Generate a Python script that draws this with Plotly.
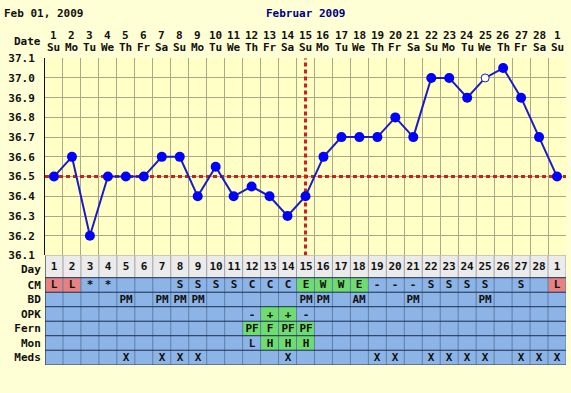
import plotly.graph_objects as go

# ---------------- data ----------------
days = list(range(1, 30))
day_labels = [str(d) for d in range(1, 29)] + ["1"]
weekdays = ["Su", "Mo", "Tu", "We", "Th", "Fr", "Sa"] * 4 + ["Su"]
temps = [36.5, 36.6, 36.2, 36.5, 36.5, 36.5, 36.6, 36.6, 36.4, 36.55,
         36.4, 36.45, 36.4, 36.3, 36.4, 36.6, 36.7, 36.7, 36.7, 36.8,
         36.7, 37.0, 37.0, 36.9, 37.0, 37.05, 36.9, 36.7, 36.5]
open_days = [25]          # discarded / open temperature point
coverline = 36.5
ovulation_day = 15

cm   = ["L", "L", "*", "*", "", "", "", "S", "S", "S", "S", "C", "C", "C", "E",
        "W", "W", "E", "-", "-", "-", "S", "S", "S", "S", "", "S", "", "L"]
bd   = ["", "", "", "", "PM", "", "PM", "PM", "PM", "", "", "", "", "", "PM",
        "PM", "", "AM", "", "", "PM", "", "", "", "PM", "", "", "", ""]
opk  = [""] * 11 + ["-", "+", "+", "-"] + [""] * 14
fern = [""] * 11 + ["PF", "F", "PF", "PF"] + [""] * 14
mon  = [""] * 11 + ["L", "H", "H", "H"] + [""] * 14
meds = ["", "", "", "", "X", "", "X", "X", "X", "", "", "", "", "X", "",
        "", "", "", "X", "X", "", "X", "X", "X", "X", "", "X", "X", "X"]

# highlight codes: 0 = gray (day row), 1 = blue, 2 = red (period), 3 = green (fertile)
cm_col   = [2, 2] + [1] * 12 + [3, 3, 3, 3] + [1] * 10 + [2]
bd_col   = [1] * 29
opk_col  = [1] * 12 + [3, 3] + [1] * 15
fern_col = [1] * 11 + [3, 3, 3, 3] + [1] * 14
mon_col  = [1] * 12 + [3, 3, 3] + [1] * 14
meds_col = [1] * 29
day_col  = [0] * 29

row_names = ["Meds", "Mon", "Fern", "OPK", "BD", "CM", "Day"]
row_text = [meds, mon, fern, opk, bd, cm, day_labels]
row_cols = [meds_col, mon_col, fern_col, opk_col, bd_col, cm_col, day_col]
row_edges = [0, 15, 30, 45, 60, 75, 90, 113]   # table row boundaries (bottom -> top)
col_edges = [d - 0.5 for d in days] + [days[-1] + 0.5]

# ---------------- geometry ----------------
W, H = 571, 393
px_x = lambda p: p / W
px_y = lambda p: 1 - p / H
x_dom = [px_x(45), px_x(566)]
y1_dom = [px_y(258), px_y(54)]
y2_dom = [px_y(371), px_y(258)]

FONT = "DejaVu Sans Mono"
PAPER = "#ffffd6"
PLOT = "#ffffc6"
GRID = "#a8a88a"
BLUE_CELL = "#8cb4e6"
RED_CELL = "#e68282"
GREEN_CELL = "#6edc6e"
GRAY_CELL = "#ebebeb"

fig = go.Figure()

# temperature line and points
fig.add_trace(go.Scatter(x=days, y=temps, mode="lines", line=dict(color="#1a1acc", width=2),
                         hoverinfo="skip", xaxis="x", yaxis="y"))
filled_x = [d for d in days if d not in open_days]
filled_y = [t for d, t in zip(days, temps) if d not in open_days]
fig.add_trace(go.Scatter(x=filled_x, y=filled_y, mode="markers",
                         marker=dict(color="#0000ff", size=10, line=dict(width=0)),
                         xaxis="x", yaxis="y"))
fig.add_trace(go.Scatter(x=open_days, y=[temps[d - 1] for d in open_days], mode="markers",
                         marker=dict(color="#ffffe8", size=8, line=dict(color="#1a1acc", width=1)),
                         xaxis="x", yaxis="y"))

# observation table as heatmap
fig.add_trace(go.Heatmap(
    z=row_cols, x=col_edges, y=row_edges, text=row_text, texttemplate="%{text}",
    textfont=dict(family=FONT, size=11, color="#101010", weight="bold"),
    zmin=0, zmax=3, showscale=False, hoverinfo="skip",
    colorscale=[[0, GRAY_CELL], [1 / 3, BLUE_CELL], [2 / 3, RED_CELL], [1, GREEN_CELL]],
    xaxis="x2", yaxis="y2"))

shapes = []
shapes.append(dict(type="line", xref="x", yref="y", x0=col_edges[0], x1=col_edges[-1],
                   y0=coverline, y1=coverline, layer="between",
                   line=dict(color="#cc2020", width=3, dash="4px,3px")))
shapes.append(dict(type="line", xref="x", yref="y", x0=ovulation_day, x1=ovulation_day,
                   y0=36.1, y1=37.1, layer="between",
                   line=dict(color="#cc2020", width=3, dash="4px,3px")))
for e in col_edges:
    shapes.append(dict(type="line", xref="x2", yref="y2", x0=e, x1=e, y0=row_edges[-2], y1=row_edges[-1],
                       line=dict(color="#a0a0a0", width=1)))
    shapes.append(dict(type="line", xref="x2", yref="y2", x0=e, x1=e, y0=row_edges[0], y1=row_edges[-2],
                       line=dict(color="#5f7fa8", width=1)))
for e in row_edges:
    shapes.append(dict(type="line", xref="x2", yref="y2", x0=col_edges[0], x1=col_edges[-1], y0=e, y1=e,
                       line=dict(color="#1c2c50" if e < row_edges[-1] else "#909090", width=1)))
shapes.append(dict(type="line", xref="x2", yref="y2", x0=col_edges[0], x1=col_edges[0],
                   y0=row_edges[0], y1=row_edges[-1], line=dict(color="#1c2c50", width=1)))

annotations = []
def ann(text, x, y, xanchor="center", color="#101010", xref="paper"):
    annotations.append(dict(text=text, xref=xref, yref="paper", x=x, y=y, xanchor=xanchor,
                            yanchor="middle", showarrow=False,
                            font=dict(family=FONT, size=11, color=color)))

ann("<b>Feb 01, 2009</b>", px_x(2), px_y(8), "left")
ann("<b>Februar 2009</b>", px_x(305), px_y(8), "center", "#000080")
ann("<b>Date</b>", px_x(43), px_y(37), "right")
for d, lab, wd in zip(days, day_labels, weekdays):
    ann("<b>%s</b>" % lab, d, px_y(31), xref="x")
    ann("<b>%s</b>" % wd, d, px_y(43), xref="x")

temp_ticks = [round(36.1 + 0.1 * i, 1) for i in range(11)]
row_tick_pos = [(a + b) / 2 for a, b in zip(row_edges[:-1], row_edges[1:])]
row_tick_pos[-1] = 99   # Day label sits slightly low in its taller row

fig.update_layout(
    width=W, height=H, margin=dict(l=0, r=0, t=0, b=0),
    paper_bgcolor=PAPER, plot_bgcolor=PLOT, showlegend=False,
    shapes=shapes, annotations=annotations,
    xaxis=dict(domain=x_dom, range=[col_edges[0], col_edges[-1]], tickvals=col_edges,
               showticklabels=False, showgrid=True, gridcolor=GRID, gridwidth=1,
               zeroline=False, showline=False, anchor="y", fixedrange=True),
    yaxis=dict(domain=y1_dom, range=[36.1, 37.1], tickvals=temp_ticks,
               ticktext=["%.1f" % t for t in temp_ticks],
               showgrid=True, gridcolor=GRID, gridwidth=1, zeroline=False,
               showline=True, linecolor="#101010", linewidth=1,
               ticks="outside", ticklen=7, tickcolor="rgba(0,0,0,0)",
               tickfont=dict(family=FONT, size=11, color="#101010", weight="bold"),
               anchor="x", fixedrange=True),
    xaxis2=dict(domain=x_dom, range=[col_edges[0], col_edges[-1]], showticklabels=False,
                showgrid=False, zeroline=False, anchor="y2", fixedrange=True),
    yaxis2=dict(domain=y2_dom, range=[row_edges[0], row_edges[-1]],
                tickvals=row_tick_pos, ticktext=row_names, showgrid=False, zeroline=False,
                ticks="outside", ticklen=1, tickcolor="rgba(0,0,0,0)",
                tickfont=dict(family=FONT, size=11, color="#101010", weight="bold"),
                anchor="x2", fixedrange=True),
)

fig.write_html("out.html", config={"displayModeBar": False},
               post_script="document.body.style.margin='0px';document.body.style.background='%s';" % PAPER)
